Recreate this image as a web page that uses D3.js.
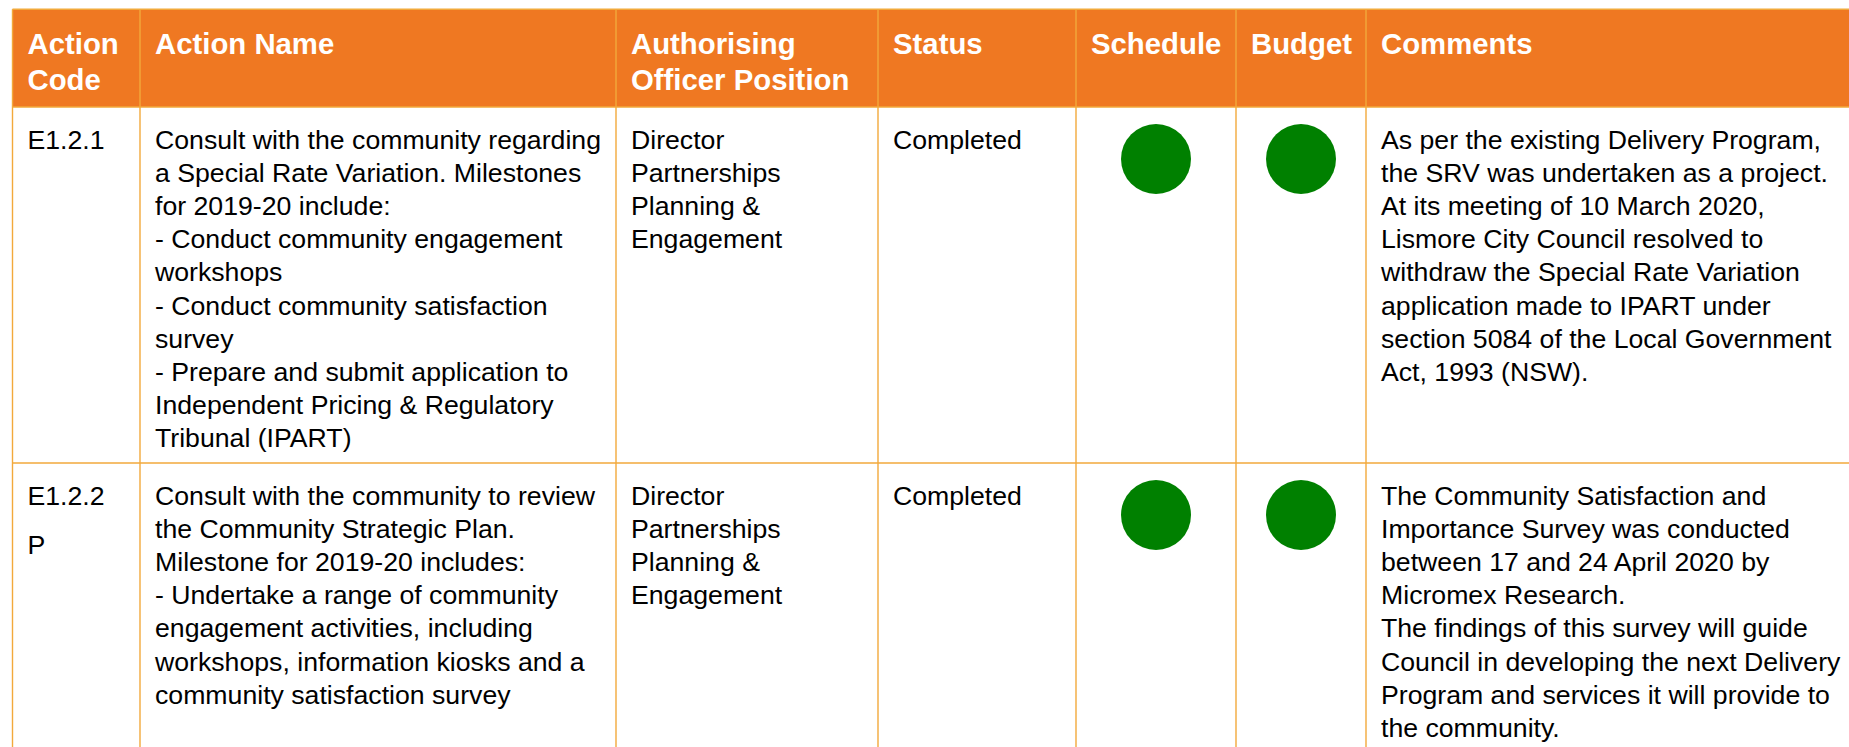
<!DOCTYPE html>
<html>
<head>
<meta charset="utf-8">
<script src="https://cdn.jsdelivr.net/npm/d3@7/dist/d3.min.js"></script>
<style>
  html, body { margin: 0; padding: 0; background: #ffffff; overflow: hidden; }
  svg { display: block; }
</style>
</head>
<body>
<svg id="chart" width="1849" height="747"></svg>
<script>
// ---------- data ----------
const columnKeys = ["code", "name", "officer", "status", "schedule", "budget", "comments"];
const columnHeaders = [
  ["Action", "Code"],
  ["Action Name"],
  ["Authorising", "Officer Position"],
  ["Status"],
  ["Schedule"],
  ["Budget"],
  ["Comments"]
];
const actionCodes = [
  ["E1.2.1"],
  ["E1.2.2", "P"]
];
const actionNames = [
  ["Consult with the community regarding",
   "a Special Rate Variation. Milestones",
   "for 2019-20 include:",
   "- Conduct community engagement",
   "workshops",
   "- Conduct community satisfaction",
   "survey",
   "- Prepare and submit application to",
   "Independent Pricing & Regulatory",
   "Tribunal (IPART)"],
  ["Consult with the community to review",
   "the Community Strategic Plan.",
   "Milestone for 2019-20 includes:",
   "- Undertake a range of community",
   "engagement activities, including",
   "workshops, information kiosks and a",
   "community satisfaction survey"]
];
const officers = [
  ["Director", "Partnerships", "Planning &", "Engagement"],
  ["Director", "Partnerships", "Planning &", "Engagement"]
];
const statuses = [["Completed"], ["Completed"]];
const scheduleStatus = ["green", "green"];
const budgetStatus = ["green", "green"];
const comments = [
  ["As per the existing Delivery Program,",
   "the SRV was undertaken as a project.",
   "At its meeting of 10 March 2020,",
   "Lismore City Council resolved to",
   "withdraw the Special Rate Variation",
   "application made to IPART under",
   "section 5084 of the Local Government",
   "Act, 1993 (NSW)."],
  ["The Community Satisfaction and",
   "Importance Survey was conducted",
   "between 17 and 24 April 2020 by",
   "Micromex Research.",
   "The findings of this survey will guide",
   "Council in developing the next Delivery",
   "Program and services it will provide to",
   "the community."]
];

// ---------- layout ----------
const colEdges = [12.5, 140, 616, 878, 1076, 1236, 1366, 1900];
const rowEdges = [9.3, 107, 463, 760];
const headerBase = 45, headerLine = 36;
const bodyBase = 42, bodyLine = 33.1, codeParaLine = 49;
const padX = 15;
const headerFill = "#EF7822";
const borderColor = "#F2A93B";
const dotColors = { green: "#008000", amber: "#FFC000", red: "#E00000" };

const svg = d3.select("#chart");

const xScale = d3.scaleOrdinal().domain(columnKeys).range(colEdges.slice(0, -1));
const xRight = d3.scaleOrdinal().domain(columnKeys).range(colEdges.slice(1));
const yScale = d3.scaleOrdinal().domain(["header", 0, 1]).range(rowEdges.slice(0, -1));

// header background
svg.append("rect")
  .attr("x", colEdges[0]).attr("y", rowEdges[0])
  .attr("width", colEdges[colEdges.length - 1] - colEdges[0])
  .attr("height", rowEdges[1] - rowEdges[0])
  .attr("fill", headerFill);

// header text
const hdr = svg.append("g")
  .attr("font-family", "'Liberation Sans', Arial, sans-serif")
  .attr("font-weight", "bold")
  .attr("font-size", "29.33px")
  .attr("fill", "#ffffff");
hdr.selectAll("text").data(columnKeys).join("text")
  .attr("x", k => xScale(k) + padX)
  .attr("y", yScale("header") + headerBase)
  .each(function(k, i) {
    d3.select(this).selectAll("tspan").data(columnHeaders[i]).join("tspan")
      .attr("x", xScale(k) + padX)
      .attr("dy", (d, j) => j === 0 ? 0 : headerLine)
      .text(d => d);
  });

// body text cells
const rows = [0, 1];
const textCols = [
  { key: "code", data: actionCodes },
  { key: "name", data: actionNames },
  { key: "officer", data: officers },
  { key: "status", data: statuses },
  { key: "comments", data: comments }
];
const body = svg.append("g")
  .attr("font-family", "'Liberation Sans', Arial, sans-serif")
  .attr("font-size", "26.67px")
  .attr("fill", "#000000");

rows.forEach(r => {
  textCols.forEach(c => {
    const lines = c.data[r];
    const t = body.append("text")
      .attr("x", xScale(c.key) + padX)
      .attr("y", yScale(r) + bodyBase);
    t.selectAll("tspan").data(lines).join("tspan")
      .attr("x", xScale(c.key) + padX)
      .attr("dy", (d, j) => j === 0 ? 0 : (c.key === "code" ? codeParaLine : bodyLine))
      .text(d => d);
  });
});

// status dots
const dotR = 35;
[["schedule", scheduleStatus], ["budget", budgetStatus]].forEach(([key, arr]) => {
  svg.append("g").selectAll("circle").data(arr).join("circle")
    .attr("cx", () => (xScale(key) + xRight(key)) / 2)
    .attr("cy", (d, i) => yScale(i) + 52)
    .attr("r", dotR)
    .attr("fill", d => dotColors[d]);
});

// grid lines
const grid = svg.append("g").attr("stroke", borderColor).attr("stroke-width", 1.4).attr("fill", "none");
grid.selectAll("line.h").data(rowEdges.slice(0, 3)).join("line")
  .attr("class", "h")
  .attr("x1", colEdges[0]).attr("x2", colEdges[colEdges.length - 1])
  .attr("y1", d => d).attr("y2", d => d);
grid.selectAll("line.v").data(colEdges.slice(0, -1)).join("line")
  .attr("class", "v")
  .attr("x1", d => d).attr("x2", d => d)
  .attr("y1", rowEdges[0]).attr("y2", rowEdges[rowEdges.length - 1]);
</script>
</body>
</html>
